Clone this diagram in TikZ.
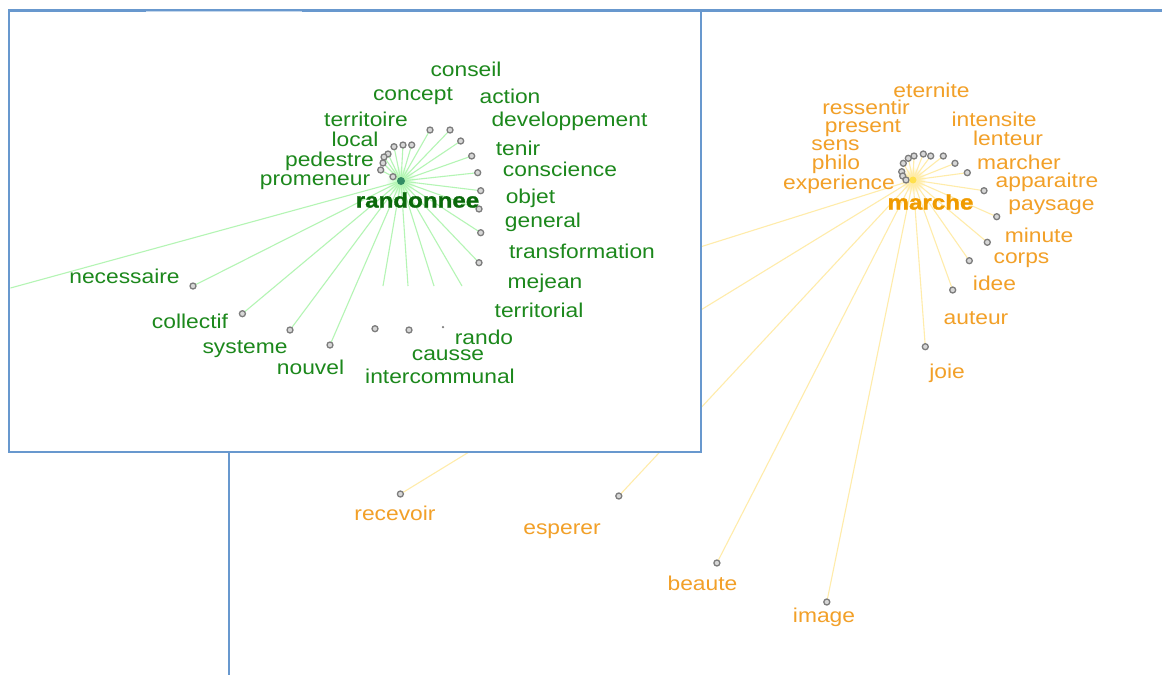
\documentclass[tikz,border=0pt]{standalone}
\usepackage{fontspec}
\setmainfont{Liberation Sans}[FakeStretch=1.14]
\newfontfamily\widebold{Liberation Sans}[FakeStretch=1.15,BoldFeatures={FakeBold=1.3}]
\definecolor{frameblue}{RGB}{104,152,206}
\definecolor{gtext}{RGB}{28,136,28}
\definecolor{gbold}{RGB}{10,105,10}
\definecolor{otext}{RGB}{242,160,40}
\definecolor{obold}{RGB}{240,155,0}
\definecolor{gline}{RGB}{180,245,180}
\definecolor{oline}{RGB}{255,236,170}
\definecolor{dotgray}{RGB}{125,125,125}
\definecolor{dotfill}{RGB}{215,215,215}
\tikzset{
  gword/.style={text=gtext,font=\fontsize{20}{22}\selectfont,inner sep=0pt,anchor=center},
  oword/.style={text=otext,font=\fontsize{20}{22}\selectfont,inner sep=0pt,anchor=center},
  gcenter/.style={text=gbold,font=\fontsize{21}{22}\selectfont\widebold\bfseries,inner sep=0pt,anchor=center},
  ocenter/.style={text=obold,font=\fontsize{21}{22}\selectfont\widebold\bfseries,inner sep=0pt,anchor=center},
  dotnode/.style={circle,inner sep=0pt,minimum size=6pt,draw=dotgray,line width=1.3pt,fill=dotfill},
  glink/.style={draw=gline,line width=1.1pt},
  olink/.style={draw=oline,line width=1.1pt},
  framestyle/.style={draw=frameblue,line width=2.8pt}
}
\begin{document}
\begin{tikzpicture}[x=1pt,y=-1pt]
\useasboundingbox (0,0) rectangle (1162,675);
\fill[white] (0,0) rectangle (1162,675);
% background window frame
\coordinate (ftl) at (147,10.5);
\coordinate (ftr) at (1162,10.5);
\coordinate (flt) at (229,440);
\coordinate (flb) at (229,675);
\draw[framestyle] (ftl) -- (ftr);
\draw[framestyle] (flt) -- (flb);

% ---------- marche cluster links (under the inset box) ----------
\coordinate (mc) at (913,180);
\foreach \n/\p in {m1/{903.3,163.3},m2/{908.3,158.3},m3/{914,156},m4/{923.3,154},m5/{930.7,156},m6/{943.3,156},m7/{955,163.3},m8/{967.3,172.7},m9/{984,190.7},m10/{996.7,216.7},m11/{987.3,242.3},m12/{969.3,260.7},m13/{952.7,290},m14/{925.3,346.7},m15/{901.7,171.7},m16/{902.7,176},m17/{906,180},m18/{400.4,494},m19/{618.8,496},m20/{716.9,563},m21/{826.8,602}}
  {\coordinate (\n) at (\p);}
\coordinate (mhid) at (500,310);
\shade[inner color=orange!40!yellow!60, outer color=white] (mc) circle (13);
\foreach \n in {m1,m2,m3,m4,m5,m6,m7,m8,m9,m10,m11,m12,m13,m14,m15,m16,m17,m18,m19,m20,m21,mhid}
  {\draw[olink] (mc) -- (\n);}

% ---------- inset box ----------
\coordinate (bx1) at (9,10.5);
\coordinate (bx2) at (701,452);
\draw[framestyle,fill=white] (bx1) rectangle (bx2);
\coordinate (gapa) at (146,11.8);
\coordinate (gapb) at (302,11.8);
\draw[white!60!frameblue,line width=0.7pt] (gapa) -- (gapb);

% ---------- randonnee cluster ----------
\coordinate (rc) at (401,181);
\foreach \n/\p in {g1/{430,130},g2/{450,130},g3/{460.7,141},g4/{471.7,156},g5/{477.7,172.7},g6/{480.7,190.7},g7/{479,209},g8/{480.7,232.7},g9/{479,262.7},g10/{394,146.7},g11/{403,145},g12/{411.7,145},g13/{388,154},g14/{384,157},g15/{383,163},g16/{380.7,170},g17/{393,176.7},g18/{193,286},g19/{242.4,313.7},g20/{290,330},g21/{330,345},g22/{375,328.7},g23/{409,330}}
  {\coordinate (\n) at (\p);}
\coordinate (e1) at (383,286);
\coordinate (e2) at (408,286);
\coordinate (e3) at (434,286);
\coordinate (e4) at (462,286);
\coordinate (e5) at (10.5,288);
\shade[inner color=green!35, outer color=white] (rc) circle (15);
\foreach \n in {g1,g2,g3,g4,g5,g6,g7,g8,g9,g10,g11,g12,g13,g14,g15,g16,g17,g18,g19,g20,g21,e1,e2,e3,e4,e5}
  {\draw[glink] (rc) -- (\n);}
\foreach \n in {g1,g2,g3,g4,g5,g6,g7,g8,g9,g10,g11,g12,g13,g14,g15,g16,g17,g18,g19,g20,g21,g22,g23}
  {\node[dotnode] (d\n) at (\n) {};}
\coordinate (gx) at (443,327);
\node[circle,inner sep=0pt,minimum size=2.5pt,fill=dotgray] (dgx) at (gx) {};
\node[circle,inner sep=0pt,minimum size=8pt,fill={rgb,255:red,50;green,140;blue,100}] (rdot) at (rc) {};

\node[gword] (wconseil) at (466,69) {conseil};
\node[gword] (wconcept) at (413,96) {concept};
\node[gword] (waction) at (510,96) {action};
\node[gword] (wdevel) at (569.5,121) {developpement};
\node[gword] (wterritoire) at (366,119) {territoire};
\node[gword] (wlocal) at (355,139) {local};
\node[gword] (wtenir) at (518,148) {tenir};
\node[gword] (wpedestre) at (329.5,161) {pedestre};
\node[gword] (wconscience) at (560,169) {conscience};
\node[gword] (wpromeneur) at (315,182) {promeneur};
\node[gword] (wobjet) at (530.5,198) {objet};
\node[gword] (wgeneral) at (543,222) {general};
\node[gword] (wtransf) at (582,251) {transformation};
\node[gword] (wmejean) at (545,283) {mejean};
\node[gword] (wterritorial) at (539,310) {territorial};
\node[gword] (wrando) at (484,337) {rando};
\node[gword] (wcausse) at (448,355) {causse};
\node[gword] (winterc) at (440,376) {intercommunal};
\node[gword] (wnecess) at (124.5,276) {necessaire};
\node[gword] (wcollectif) at (190,321) {collectif};
\node[gword] (wsysteme) at (245,349) {systeme};
\node[gword] (wnouvel) at (310.5,367) {nouvel};
\node[gcenter] (wrandonnee) at (417.5,200) {randonnee};

% ---------- marche dots and words ----------
\foreach \n in {m1,m2,m3,m4,m5,m6,m7,m8,m9,m10,m11,m12,m13,m14,m15,m16,m17,m18,m19,m20,m21}
  {\node[dotnode] (d\n) at (\n) {};}
\node[circle,inner sep=0pt,minimum size=7pt,fill=orange!35!yellow!70] (mdot) at (mc) {};

\node[oword] (weternite) at (931.5,90) {eternite};
\node[oword] (wressentir) at (866,107) {ressentir};
\node[oword] (wpresent) at (863,128) {present};
\node[oword] (wsens) at (835.5,145) {sens};
\node[oword] (wphilo) at (836,164) {philo};
\node[oword] (wexperience) at (839,184) {experience};
\node[oword] (wintensite) at (994,119) {intensite};
\node[oword] (wlenteur) at (1008,138) {lenteur};
\node[oword] (wmarcher) at (1019,162) {marcher};
\node[oword] (wapparaitre) at (1047,182) {apparaitre};
\node[oword] (wpaysage) at (1051.5,207) {paysage};
\node[oword] (wminute) at (1039,235) {minute};
\node[oword] (wcorps) at (1021.5,260) {corps};
\node[oword] (widee) at (994.5,283) {idee};
\node[oword] (wauteur) at (976,318) {auteur};
\node[oword] (wjoie) at (947,373) {joie};
\node[oword] (wrecevoir) at (395,513) {recevoir};
\node[oword] (wesperer) at (562,531) {esperer};
\node[oword] (wbeaute) at (702.5,583) {beaute};
\node[oword] (wimage) at (824,617) {image};
\node[ocenter] (wmarche) at (930.5,202) {marche};
\end{tikzpicture}
\end{document}
